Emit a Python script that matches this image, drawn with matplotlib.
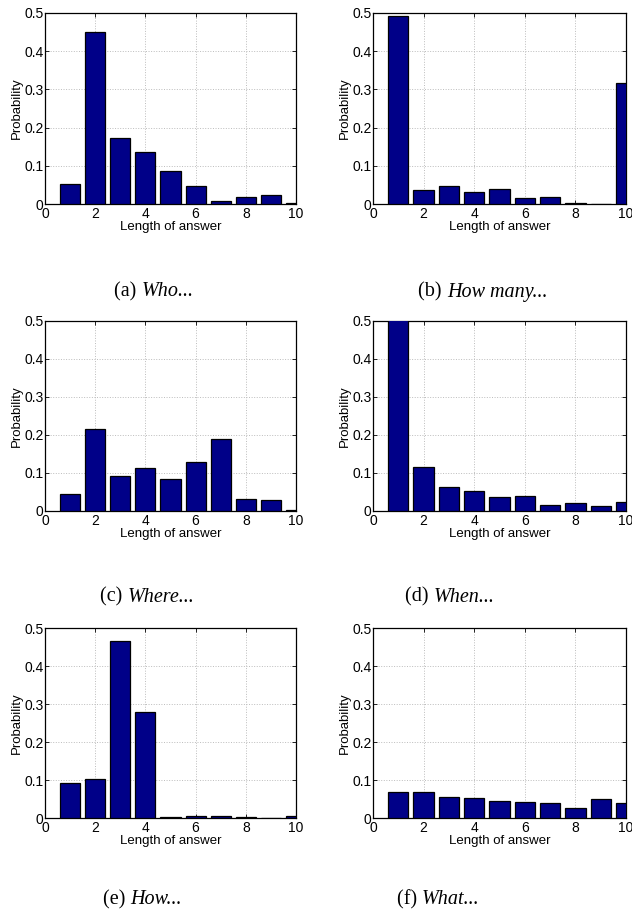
import matplotlib.pyplot as plt
import numpy as np

# answer length bins
lengths = np.arange(1, 11)

# probability per question type
who = [0.052, 0.450, 0.172, 0.135, 0.086, 0.046, 0.008, 0.018, 0.024, 0.003]
how_many = [0.491, 0.037, 0.048, 0.031, 0.040, 0.017, 0.018, 0.002, 0.001, 0.318]
where = [0.045, 0.215, 0.093, 0.113, 0.085, 0.129, 0.189, 0.031, 0.029, 0.003]
when = [0.53, 0.115, 0.062, 0.052, 0.038, 0.040, 0.017, 0.022, 0.014, 0.025]
how = [0.093, 0.103, 0.467, 0.279, 0.003, 0.005, 0.004, 0.002, 0.001, 0.004]
what = [0.068, 0.069, 0.056, 0.052, 0.046, 0.041, 0.040, 0.026, 0.050, 0.039]

series = [who, how_many, where, when, how, what]
captions = [('(a) ', 'Who...'), ('(b) ', 'How many...'),
            ('(c) ', 'Where...'), ('(d) ', 'When...'),
            ('(e) ', 'How...'), ('(f) ', 'What...')]

W, H = 632, 909
fig = plt.figure(figsize=(W / 100, H / 100), dpi=100)
plt.rcParams['font.family'] = ['Liberation Sans', 'DejaVu Sans']

# axes boxes in pixels: (left, right) and (top, bottom)
cols = [(45, 296), (373, 626)]
rows = [(13, 204), (321, 511), (628, 818)]
cap_x = [154, 483, 147, 450, 142, 438]
cap_y = [292, 597, 900]

cap_texts = []
for i, vals in enumerate(series):
    r, c = divmod(i, 2)
    x0, x1 = cols[c]
    t, b = rows[r]
    ax = fig.add_axes([x0 / W, 1 - b / H, (x1 - x0) / W, (b - t) / H])
    ax.bar(lengths, vals, width=0.8, color='#000088', edgecolor='black', linewidth=0.9, zorder=3)
    ax.set_xlim(0, 10)
    ax.set_ylim(0, 0.5)
    ax.set_xticks([0, 2, 4, 6, 8, 10])
    ax.set_yticks([0, 0.1, 0.2, 0.3, 0.4, 0.5])
    ax.set_yticklabels(['0', '0.1', '0.2', '0.3', '0.4', '0.5'])
    ax.tick_params(direction='in', length=3, width=0.6, labelsize=10, pad=1,
                   top=True, right=True)
    ax.tick_params(axis='x', pad=2)
    ax.grid(True, linestyle=':', color='#bcbcbc', linewidth=0.7, zorder=0)
    ax.set_axisbelow(True)
    for s in ax.spines.values():
        s.set_linewidth(0.9)
    ax.set_xlabel('Length of answer', fontsize=9.5, labelpad=0.5)
    ax.set_ylabel('Probability', fontsize=9.5, labelpad=1)

    pre, name = captions[i]
    t1 = fig.text(0, 1 - cap_y[r] / H, pre, ha='left', va='center',
                  fontsize=14.5, family='Liberation Serif')
    t2 = fig.text(0, 1 - cap_y[r] / H, name, ha='left', va='center',
                  fontsize=14.5, family='Liberation Serif', style='italic')
    cap_texts.append((t1, t2, cap_x[i]))

# center each two-part caption on its x position
fig.canvas.draw()
rend = fig.canvas.get_renderer()
for t1, t2, cx in cap_texts:
    w1 = t1.get_window_extent(rend).width
    w2 = t2.get_window_extent(rend).width
    left = cx - (w1 + w2) / 2
    t1.set_x(left / W)
    t2.set_x((left + w1) / W)

plt.savefig('out.png', dpi=100)
